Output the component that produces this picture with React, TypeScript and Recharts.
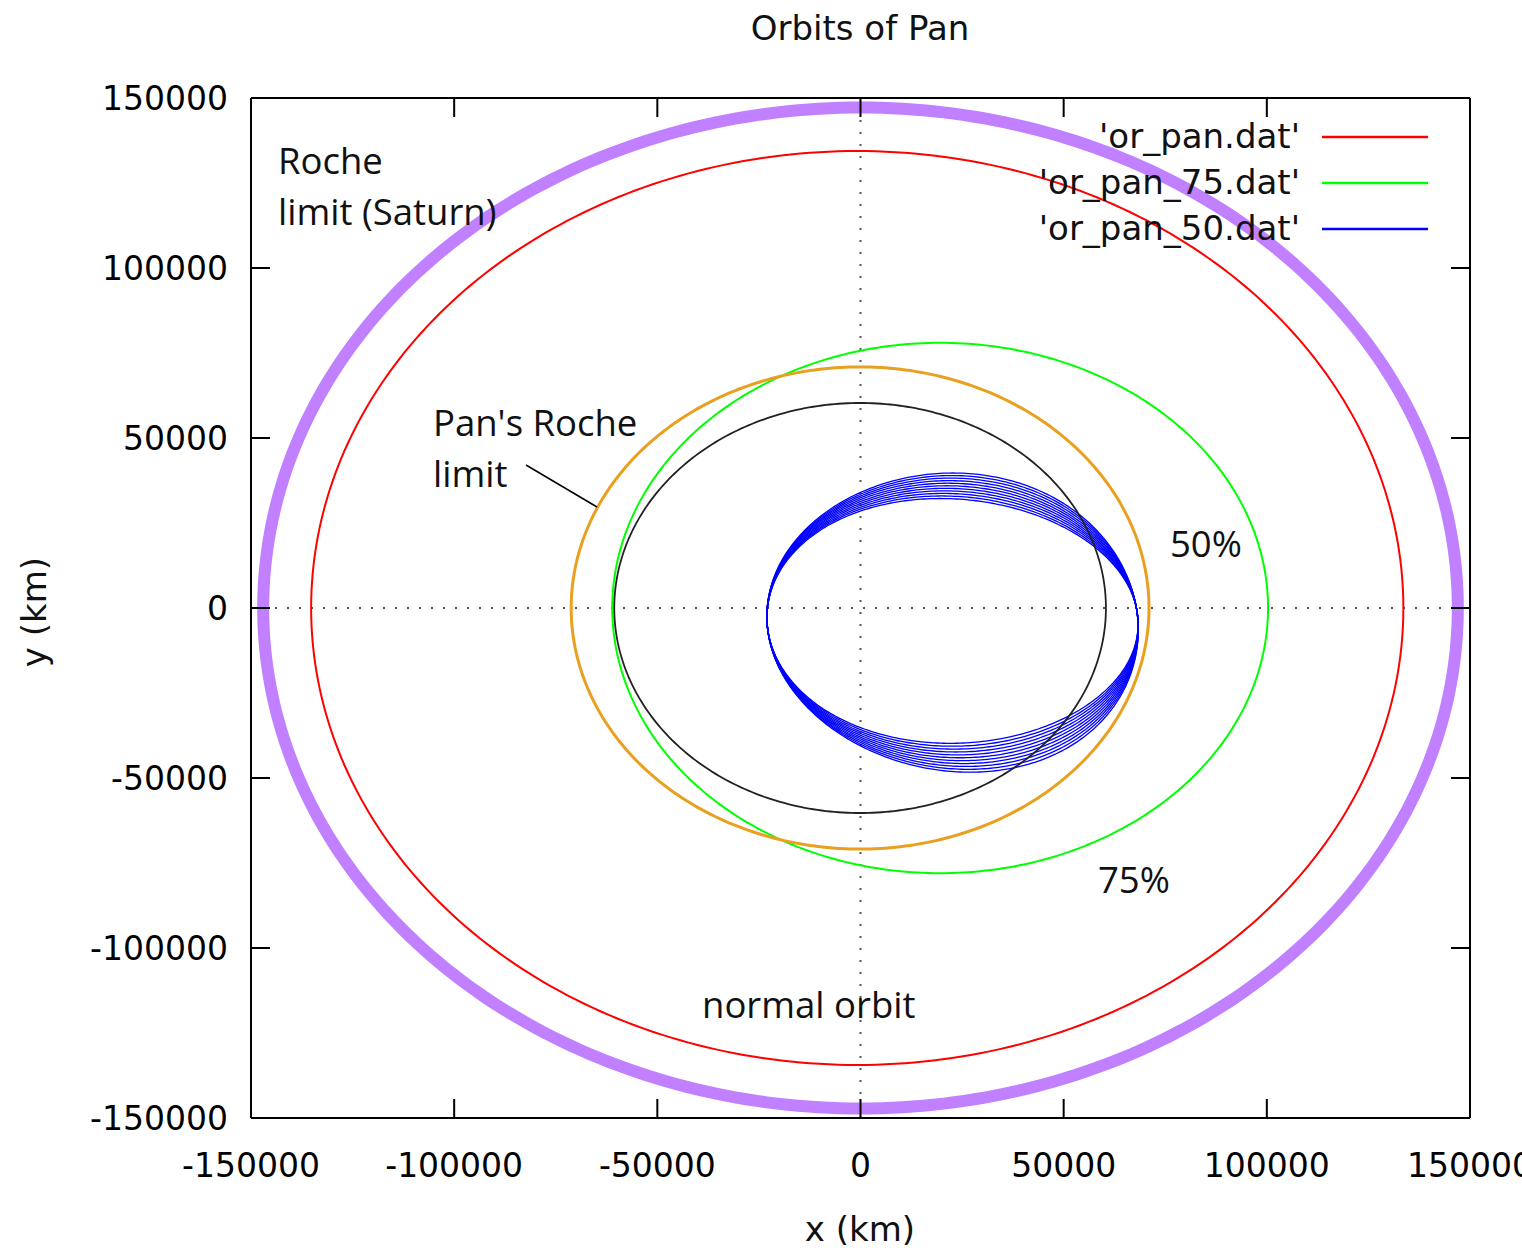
import { ComposedChart, Line, XAxis, YAxis, ReferenceLine, Legend } from "recharts";

const W = 1522;
const H = 1250;

const axisTicks = [-150000, -100000, -50000, 0, 50000, 100000, 150000];

// closed curves: centre and semi-axes in km
const ringNames = ["orPan", "orPan75", "saturnRoche", "panRoche", "panCore"];
const ringCx = [-800, 19600, 0, -100, -100];
const ringCy = [0, 0, 0, 0, 0];
const ringRx = [134400, 80700, 147000, 71100, 60500];
const ringRy = [134400, 78000, 147200, 70900, 60300];
const ringColors = ["#ff0000", "#00ff00", "#c080ff", "#e9a020", "#222222"];
const ringWidths = [2, 2, 12, 3, 1.8];

// or_pan_50.dat: the orbit drifts a little on every turn
const pan50Cx = 22650;
const pan50A = 45650;
const pan50B = [36000, 36800, 37600, 38400, 39200, 40000, 40800, 41600, 42400, 43200, 44000];
const pan50Cy = [-3800, -3850, -3900, -3950, -4000, -4050, -4100, -4150, -4200, -4250, -4300];
const pan50Skew = [-1200, -1300, -1350, -1450, -1550, -1650, -1750, -1850, -1900, -2000, -2100];
const pan50Bulge = [-1800, -1400, -1000, -600, -200, 200, 600, 1000, 1400, 1800, 2200];

const legendLabels = ["'or_pan.dat'", "'or_pan_75.dat'", "'or_pan_50.dat'"];
const legendColors = ["#ff0000", "#00ff00", "#0000ff"];

const STEPS = 360;
const TICK_LEN = 19;

function ellipse(cx: number, cy: number, rx: number, ry: number, skew = 0, bulge = 0) {
  const pts: { x: number; y: number }[] = [];
  for (let i = 0; i <= STEPS; i++) {
    const t = (i / STEPS) * Math.PI * 2;
    const s = Math.sin(t);
    pts.push({ x: cx + rx * Math.cos(t) + skew * s + bulge * s * s, y: cy + ry * s });
  }
  return pts;
}

const rings = ringNames.map((name, i) => ({
  name,
  color: ringColors[i],
  width: ringWidths[i],
  data: ellipse(ringCx[i], ringCy[i], ringRx[i], ringRy[i]),
}));

const pan50 = pan50B.map((b, i) => ellipse(pan50Cx, pan50Cy[i], pan50A, b, pan50Skew[i], pan50Bulge[i]));

const tickFont = { fontSize: 33, fill: "#000", fontFamily: "DejaVu Sans" };
const frame = { stroke: "#000", strokeWidth: 2 };
const noLabel = () => "";

// mirrored ticks along the top border, pointing into the plot
function TopTick(props: any) {
  const { x, y } = props;
  return <line x1={x} x2={x} y1={y} y2={y + TICK_LEN} stroke="#000" strokeWidth={2} />;
}

function LegendBox() {
  return (
    <svg width={540} height={150}>
      {legendLabels.map((label, i) => (
        <g key={label}>
          <text x={400} y={34 + 46 * i} textAnchor="end" fontFamily="DejaVu Sans" fontSize={34} fill="#111">
            {label}
          </text>
          <line x1={422} x2={528} y1={23 + 46 * i} y2={23 + 46 * i} stroke={legendColors[i]} strokeWidth={2.5} />
        </g>
      ))}
    </svg>
  );
}

function orbitLine(key: string, data: { x: number; y: number }[], color: string, width: number, mirror = false) {
  return (
    <Line
      key={key}
      data={data}
      dataKey="y"
      type="linear"
      xAxisId={mirror ? "top" : 0}
      yAxisId={mirror ? "right" : 0}
      stroke={color}
      strokeWidth={width}
      dot={false}
      activeDot={false}
      isAnimationActive={false}
      legendType="none"
    />
  );
}

export default function App() {
  const note = { fontFamily: "Open Sans", fontSize: 36.5, fill: "#111" };
  return (
    <div style={{ position: "absolute", left: 0, top: 0, width: W, height: H, background: "#fff" }}>
      <ComposedChart width={W} height={H} margin={{ top: 97, right: 51, bottom: 0, left: 0 }}>
        <XAxis
          type="number"
          dataKey="x"
          domain={[-150000, 150000]}
          ticks={axisTicks}
          interval={0}
          allowDataOverflow
          height={132}
          tickSize={-TICK_LEN}
          tickMargin={55}
          axisLine={frame}
          tickLine={frame}
          tick={tickFont}
        />
        <XAxis
          xAxisId="top"
          orientation="top"
          type="number"
          dataKey="x"
          domain={[-150000, 150000]}
          ticks={axisTicks}
          interval={0}
          allowDataOverflow
          height={1}
          tickSize={0}
          tickMargin={0}
          axisLine={frame}
          tickLine={false}
          tick={TopTick}
        />
        <YAxis
          type="number"
          domain={[-150000, 150000]}
          ticks={axisTicks}
          interval={0}
          allowDataOverflow
          width={251}
          tickSize={-TICK_LEN}
          tickMargin={42}
          axisLine={frame}
          tickLine={frame}
          tick={tickFont}
        />
        <YAxis
          yAxisId="right"
          orientation="right"
          type="number"
          domain={[-150000, 150000]}
          ticks={axisTicks}
          interval={0}
          allowDataOverflow
          width={1}
          tickSize={-TICK_LEN}
          axisLine={frame}
          tickLine={frame}
          tickFormatter={noLabel}
        />
        <ReferenceLine x={0} stroke="#555" strokeWidth={2} strokeDasharray="2 10" />
        <ReferenceLine y={0} stroke="#555" strokeWidth={2} strokeDasharray="2 10" />

        {rings.slice(0, 2).map((r) => orbitLine(r.name, r.data, r.color, r.width))}
        {pan50.map((pts, i) => orbitLine("pan50-" + i, pts, "#0000ff", 1.3))}
        {orbitLine(rings[2].name, rings[2].data, rings[2].color, rings[2].width, true)}
        {rings.slice(3).map((r) => orbitLine(r.name, r.data, r.color, r.width))}

        <Legend
          layout="vertical"
          align="center"
          verticalAlign="middle"
          wrapperStyle={{ top: 114, left: 900, width: 540, height: 150 }}
          content={() => <LegendBox />}
        />
      </ComposedChart>

      <svg width={W} height={H} style={{ position: "absolute", left: 0, top: 0, pointerEvents: "none" }}>
        <text x={860} y={40} textAnchor="middle" fontFamily="DejaVu Sans" fontSize={34} fill="#111">
          Orbits of Pan
        </text>
        <text x={860} y={1241} textAnchor="middle" fontFamily="DejaVu Sans" fontSize={34} fill="#111">
          x (km)
        </text>
        <text transform="translate(46,612) rotate(-90)" textAnchor="middle" fontFamily="DejaVu Sans" fontSize={34} fill="#111">
          y (km)
        </text>

        <text x={278} y={174} {...note}>Roche</text>
        <text x={278} y={225} {...note}>limit (Saturn)</text>
        <text x={433} y={436} {...note}>Pan's Roche</text>
        <text x={433} y={487} {...note}>limit</text>
        <line x1={526} y1={465} x2={597} y2={507} stroke="#000" strokeWidth={1.5} />
        <text x={1170} y={557} {...note}>50%</text>
        <text x={1098} y={893} {...note}>75%</text>
        <text x={702} y={1018} {...note}>normal orbit</text>
      </svg>
    </div>
  );
}
